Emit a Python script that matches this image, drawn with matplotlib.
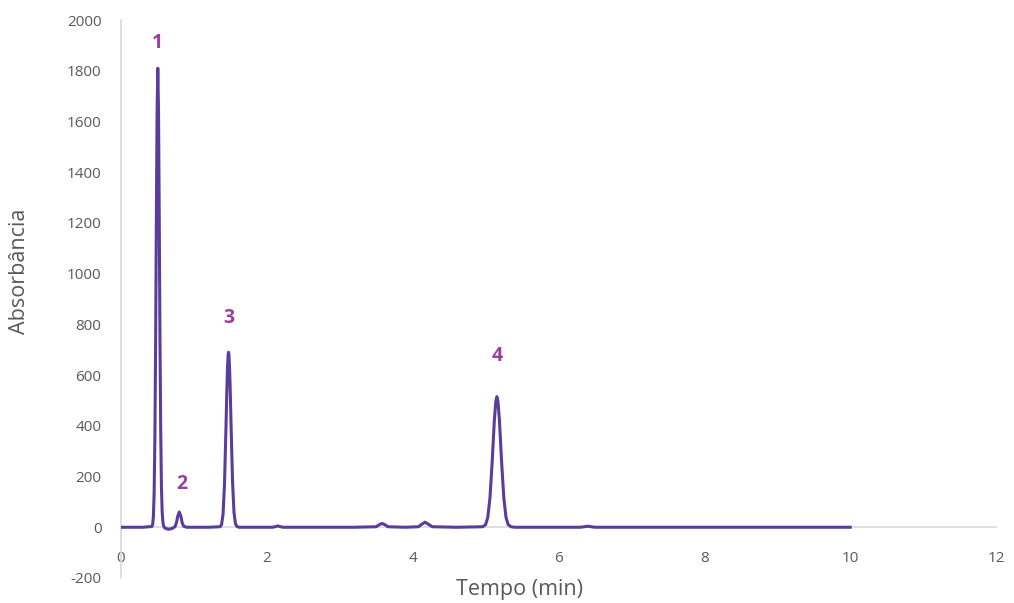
import numpy as np
import matplotlib.pyplot as plt

plt.rcParams['axes.unicode_minus'] = False

# chromatogram trace (time in min, absorbance)
tempo = [0.00, 0.30, 0.425, 0.435, 0.445, 0.455, 0.465, 0.475, 0.485, 0.495, 0.505,
         0.515, 0.525, 0.535, 0.545, 0.555, 0.565, 0.575, 0.585, 0.60, 0.65, 0.70,
         0.74, 0.76, 0.78, 0.80, 0.82, 0.84, 0.86, 0.90, 1.00, 1.20, 1.36, 1.38, 1.40,
         1.42, 1.44, 1.45, 1.46, 1.47, 1.475, 1.48, 1.49, 1.50, 1.51, 1.53, 1.55, 1.57,
         1.59, 1.62, 1.80, 2.08, 2.15, 2.22, 2.60, 3.20, 3.50, 3.54, 3.58, 3.62, 3.66,
         3.90, 4.08, 4.12, 4.17, 4.22, 4.27, 4.60, 4.96, 5.00, 5.03, 5.06, 5.09, 5.12,
         5.14, 5.155, 5.17, 5.19, 5.22, 5.25, 5.28, 5.31, 5.35, 5.40, 5.80, 6.30, 6.40,
         6.50, 7.00, 8.00, 9.00, 10.00]
absorbancia = [0, 0, 3, 12, 44, 137, 349, 715, 1198, 1632, 1810,
               1640, 1220, 740, 380, 160, 60, 20, 5, -3, -8, -5,
               2, 17, 45, 60, 45, 17, 4, 0, 0, 0, 2, 11, 52,
               172, 394, 518, 623, 683, 690, 683, 623, 518, 400, 180, 58, 14,
               3, 0, 0, 0, 5, 0, 0, 0, 2, 10, 15, 10, 2,
               0, 2, 11, 20, 11, 2, 0, 2, 10, 39, 116, 256, 421,
               496, 515, 496, 421, 256, 116, 39, 10, 2, 0, 0, 0, 4,
               0, 0, 0, 0, 0]

# peak numbering
pico_nomes = ['1', '2', '3', '4']
pico_tempo = [0.505, 0.80, 1.475, 5.155]
pico_altura = [1810, 60, 690, 515]
# label offsets in points (dx, dy)
pico_offset = [(0, 18), (2, 20), (0, 25), (0, 29)]

fig = plt.figure(figsize=(10.14, 6.03), dpi=100)
ax = fig.add_axes([0.1193, 0.0415, 0.8630, 0.9253])

ax.plot(tempo, absorbancia, color='#5a3c9a', lw=2.2, solid_joinstyle='round', zorder=3)

for nome, t, h, off in zip(pico_nomes, pico_tempo, pico_altura, pico_offset):
    ax.annotate(nome, (t, h), xytext=off, textcoords='offset points',
                ha='center', va='center', fontsize=14, fontweight='bold',
                color='#9c3f9e', family='Open Sans')

ax.set_xlim(0, 12)
ax.set_ylim(-200, 2000)
ax.set_xticks(np.arange(0, 13, 2))
ax.set_yticks(np.arange(-200, 2001, 200))

for s in ['top', 'right']:
    ax.spines[s].set_visible(False)
ax.spines['bottom'].set_position(('data', 0))
ax.spines['bottom'].set_color('#d9d9d9')
ax.spines['left'].set_color('#d9d9d9')
ax.spines['bottom'].set_linewidth(1.2)
ax.spines['left'].set_linewidth(1.2)

ax.tick_params(axis='both', length=0, labelsize=11, labelcolor='#595959')
ax.tick_params(axis='x', pad=17)
ax.tick_params(axis='y', pad=14)
for lab in ax.get_xticklabels() + ax.get_yticklabels():
    lab.set_family('Open Sans')

ax.set_xlabel('Tempo (min)', fontsize=15.5, color='#595959', family='Open Sans',
              va='center')
ax.xaxis.set_label_coords(0.455, -0.020)
ax.set_ylabel('Absorbância', fontsize=15.5, color='#595959', family='Open Sans',
              va='center')
ax.yaxis.set_label_coords(-0.1154, 0.55)

fig.savefig('out.png', dpi=100)
